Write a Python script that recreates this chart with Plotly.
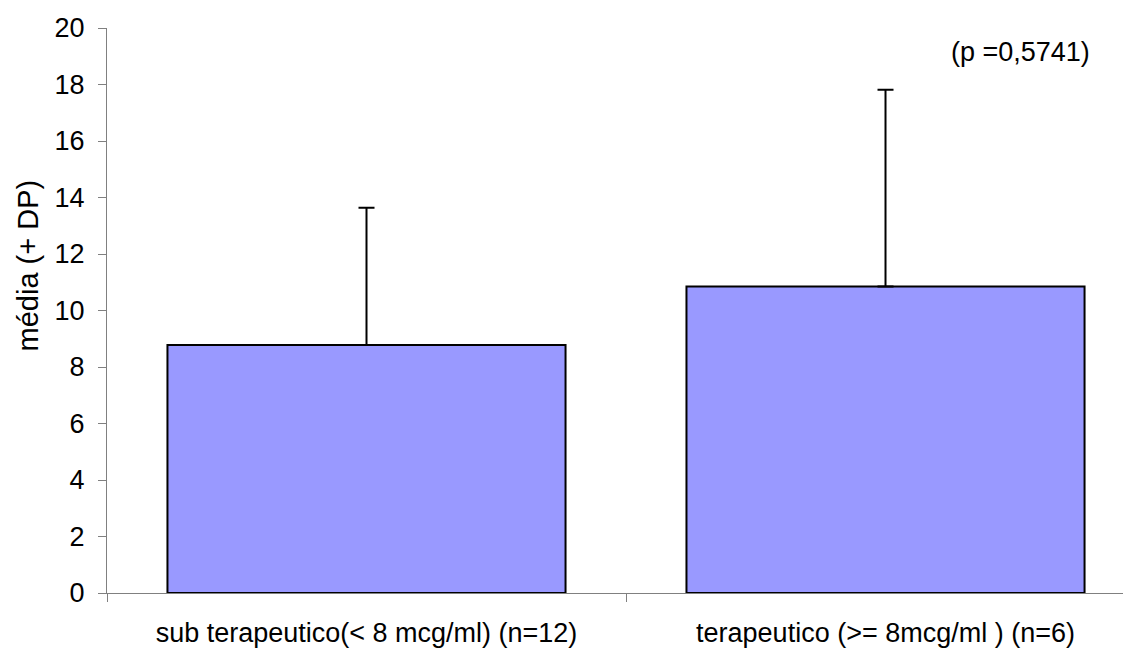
import plotly.graph_objects as go

categories = ["sub terapeutico(< 8 mcg/ml) (n=12)", "terapeutico (>= 8mcg/ml ) (n=6)"]
means = [8.78, 10.85]
sd_plus = [4.86, 6.96]
y_ticks = [0, 2, 4, 6, 8, 10, 12, 14, 16, 18, 20]
p_text = "(p =0,5741)"
y_title = "média (+ DP)"

FONT = "Liberation Sans, Arial, sans-serif"

fig = go.Figure()
fig.add_trace(go.Bar(
    x=categories,
    y=means,
    marker=dict(color="#9999FF", line=dict(color="#000000", width=2)),
    error_y=dict(type="data", symmetric=False, array=sd_plus,
                 arrayminus=[0, 0], color="#000000", thickness=2, width=8),
    showlegend=False,
))

fig.add_annotation(text=p_text, xref="paper", yref="y", x=0.962, y=19.15,
                   xanchor="right", yanchor="middle", showarrow=False,
                   font=dict(family=FONT, size=27, color="#000000"))

# y-axis title (placed as rotated text, as in the original)
fig.add_annotation(text=y_title, xref="paper", yref="y", x=-0.077, y=11.6,
                   xanchor="center", yanchor="middle", textangle=-90,
                   showarrow=False,
                   font=dict(family=FONT, size=29, color="#000000"))

fig.update_layout(
    width=1123, height=640,
    margin=dict(l=99, r=0, t=20, b=53),
    paper_bgcolor="white", plot_bgcolor="white",
    bargap=0.233,
    font=dict(family=FONT, size=27, color="#000000"),
    xaxis=dict(type="category", range=[-0.5, 1.473], showline=True,
               linecolor="#808080", linewidth=1, ticks="outside",
               tickson="boundaries", ticklen=8, tickcolor="#808080",
               showgrid=False, zeroline=False, ticklabelstandoff=16,
               tickfont=dict(family=FONT, size=27)),
    yaxis=dict(range=[0, 20], tickvals=y_ticks, showline=True,
               linecolor="#808080", linewidth=1, ticks="outside",
               ticklen=8, tickcolor="#808080", showgrid=False,
               zeroline=False, ticklabelstandoff=8,
               tickfont=dict(family=FONT, size=27)),
)

fig.write_html("out.html")
